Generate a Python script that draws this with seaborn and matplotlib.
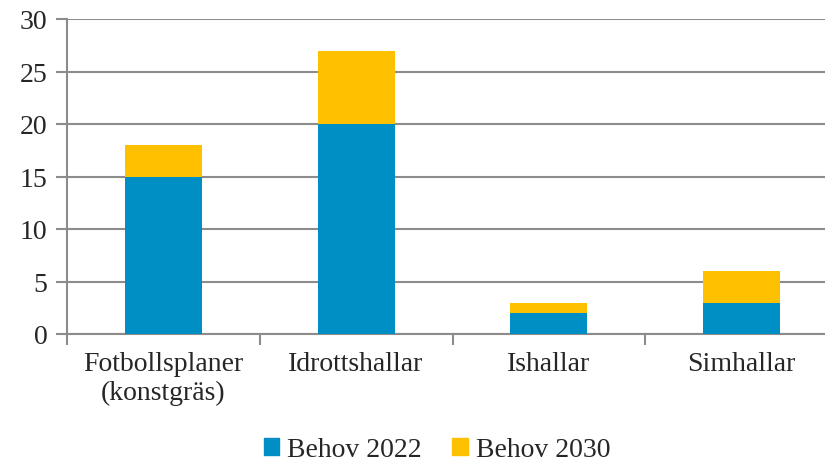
import pandas as pd
import matplotlib.pyplot as plt
import seaborn as sns
from matplotlib.patches import Patch
from matplotlib.ticker import FixedLocator

kategorier = ["Fotbollsplaner\n(konstgräs)", "Idrottshallar", "Ishallar", "Simhallar"]
behov_2022 = [15, 20, 2, 3]
behov_2030 = [18, 27, 3, 6]

BLA = "#008FC4"
GUL = "#FFC000"
GRA = "#8C8C8C"

sns.set_theme(style="white")
plt.rcParams["font.family"] = ["Liberation Serif", "DejaVu Serif"]

df = pd.DataFrame({"kategori": kategorier, "2022": behov_2022, "2030": behov_2030})

fig = plt.figure(figsize=(8.25, 4.64), dpi=100)
ax = fig.add_axes([67 / 825, 129 / 464, 771 / 825, 315 / 464])

# totalen (2030) i gult, 2022 ovanpå i blått
sns.barplot(data=df, x="kategori", y="2030", color=GUL, width=0.4,
            saturation=1, linewidth=0, ax=ax, zorder=3)
sns.barplot(data=df, x="kategori", y="2022", color=BLA, width=0.4,
            saturation=1, linewidth=0, ax=ax, zorder=4)

ax.set_xlim(-0.5, 3.5)
ax.set_ylim(0, 30)
ax.set_yticks(range(0, 31, 5))
ax.yaxis.grid(True, color=GRA, linewidth=1.5, zorder=0)
ax.set_axisbelow(True)

ax.xaxis.set_minor_locator(FixedLocator([-0.5, 0.5, 1.5, 2.5, 3.5]))
ax.tick_params(axis="x", which="major", length=0, labelsize=20, pad=12)
ax.tick_params(axis="x", which="minor", length=8, width=1.5, color=GRA, direction="out")
ax.tick_params(axis="y", length=8, width=1.5, color=GRA, direction="out", labelsize=20, pad=6)
ax.tick_params(bottom=True, left=True, which="both")

for side in ["top", "right"]:
    ax.spines[side].set_visible(False)
for side in ["left", "bottom"]:
    ax.spines[side].set_color(GRA)
    ax.spines[side].set_linewidth(1.5)

ax.set_xlabel("")
ax.set_ylabel("")

handles = [Patch(color=BLA, label="Behov 2022"), Patch(color=GUL, label="Behov 2030")]
fig.legend(handles=handles, loc="center", bbox_to_anchor=(437 / 825, 1 - 451 / 464),
           ncol=2, frameon=False, fontsize=20, handlelength=0.55, handleheight=0.55,
           handletextpad=0.3, columnspacing=1.1)

fig.savefig("out.png", dpi=100)
